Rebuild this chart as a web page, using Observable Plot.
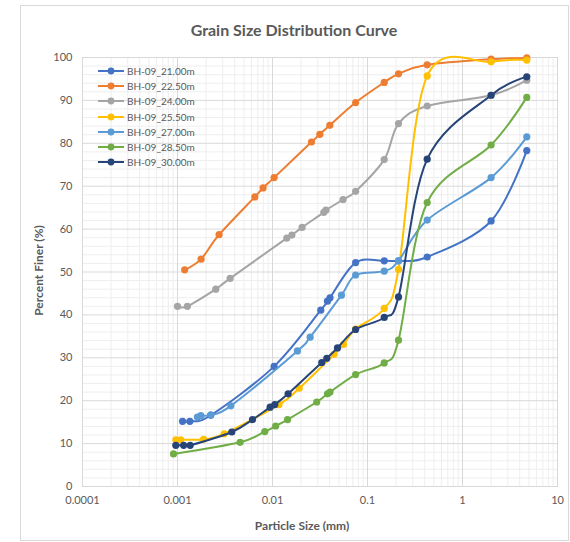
<!DOCTYPE html>
<html>
<head>
<meta charset="utf-8">
<script src="https://cdn.jsdelivr.net/npm/d3@7"></script>
<script src="https://cdn.jsdelivr.net/npm/@observablehq/plot@0.6"></script>
<style>
  html, body { margin: 0; padding: 0; background: #fff; }
  #wrap { position: relative; width: 570px; height: 542px; font-family: Lato, "Open Sans", sans-serif; color: #595959; overflow: hidden; }
  #wrap > * { position: absolute; }
  #chart { left: 0; top: 0; }
  .lg-row { display: flex; align-items: center; height: 15.3px; font-size: 10px; }
</style>
</head>
<body>
<div id="wrap">
  <div id="border" style="left:20px;top:5px;width:547px;height:534px;border:1px solid #d9d9d9;"></div>
  <div id="chart"></div>
  <div id="title" style="left:20px;width:548px;top:20px;text-align:center;font-size:16px;font-weight:700;">Grain Size Distribution Curve</div>
  <div id="xlabel" style="left:202px;width:200px;top:518px;text-align:center;font-size:12px;font-weight:700;">Particle Size (mm)</div>
  <div id="ylabel" style="left:-62px;width:200px;top:263px;text-align:center;font-size:12px;font-weight:700;transform:rotate(-90deg);">Percent Finer (%)</div>
  <div id="legend" style="left:97px;top:63px;"></div>
</div>
<script>
// ---- Data ----
const seriesNames = ["BH-09_21.00m", "BH-09_22.50m", "BH-09_24.00m", "BH-09_25.50m", "BH-09_27.00m", "BH-09_28.50m", "BH-09_30.00m"];
const seriesColors = ["#4472C4", "#ED7D31", "#A5A5A5", "#FFC000", "#5B9BD5", "#70AD47", "#264478"];

const x_21_00 = [0.00113, 0.00135, 0.00224, 0.0104, 0.0322, 0.0379, 0.0403, 0.075, 0.15, 0.212, 0.425, 2.0, 4.75];
const y_21_00 = [15.2, 15.2, 16.6, 28.0, 41.1, 43.2, 44.0, 52.2, 52.6, 52.6, 53.5, 61.9, 78.3];

const x_22_50 = [0.00119, 0.00177, 0.00274, 0.00652, 0.00796, 0.0104, 0.0257, 0.0315, 0.0401, 0.075, 0.15, 0.212, 0.425, 2.0, 4.75];
const y_22_50 = [50.5, 53.0, 58.7, 67.5, 69.6, 72.0, 80.3, 82.1, 84.2, 89.5, 94.2, 96.2, 98.3, 99.6, 99.9];

const x_24_00 = [0.001, 0.00127, 0.00253, 0.00358, 0.01415, 0.016, 0.0205, 0.0347, 0.0365, 0.0553, 0.075, 0.15, 0.212, 0.425, 2.0, 4.75];
const y_24_00 = [42.0, 42.0, 46.0, 48.5, 57.9, 58.6, 60.4, 63.9, 64.4, 66.9, 68.8, 76.2, 84.6, 88.7, 91.2, 94.7];

const x_25_50 = [0.00096, 0.00108, 0.00188, 0.0031, 0.0117, 0.0191, 0.0445, 0.0559, 0.075, 0.15, 0.212, 0.425, 2.0, 4.75];
const y_25_50 = [10.9, 10.9, 11.0, 12.3, 19.1, 22.9, 30.8, 33.1, 36.7, 41.5, 50.6, 95.7, 99.0, 99.4];

const x_27_00 = [0.00162, 0.00176, 0.00224, 0.00364, 0.0183, 0.0249, 0.0532, 0.075, 0.15, 0.212, 0.425, 2.0, 4.75];
const y_27_00 = [16.2, 16.5, 16.7, 18.8, 31.6, 34.8, 44.6, 49.3, 50.2, 52.6, 62.1, 72.0, 81.5];

const x_28_50 = [0.000908, 0.00456, 0.0083, 0.0108, 0.0144, 0.0292, 0.0379, 0.0403, 0.075, 0.15, 0.212, 0.425, 2.0, 4.75];
const y_28_50 = [7.6, 10.3, 12.8, 14.1, 15.6, 19.7, 21.6, 22.0, 26.1, 28.8, 34.1, 66.2, 79.6, 90.7];

const x_30_00 = [0.00096, 0.00116, 0.00136, 0.00373, 0.00616, 0.00944, 0.01057, 0.0146, 0.033, 0.0373, 0.0483, 0.075, 0.15, 0.212, 0.425, 2.0, 4.75];
const y_30_00 = [9.6, 9.6, 9.6, 12.7, 15.6, 18.5, 19.1, 21.6, 28.9, 29.9, 32.3, 36.6, 39.4, 44.2, 76.3, 91.2, 95.5];

const seriesX = [x_21_00, x_22_50, x_24_00, x_25_50, x_27_00, x_28_50, x_30_00];
const seriesY = [y_21_00, y_22_50, y_24_00, y_25_50, y_27_00, y_28_50, y_30_00];

const xTicks = [0.0001, 0.001, 0.01, 0.1, 1, 10];
const xTickLabels = ["0.0001", "0.001", "0.01", "0.1", "1", "10"];
const yTicks = [0, 10, 20, 30, 40, 50, 60, 70, 80, 90, 100];
const yTickLabels = ["0", "10", "20", "30", "40", "50", "60", "70", "80", "90", "100"];

// ---- Build ----
const tables = seriesNames.map((name, i) => seriesX[i].map((x, j) => ({series: name, x, y: seriesY[i][j]})));

const minorX = [];
for (let e = -4; e < 1; e++) for (let m = 2; m <= 9; m++) minorX.push(m * Math.pow(10, e));
const minorY = d3.range(0, 101, 2).filter(v => v % 10 !== 0);

const marks = [
  Plot.ruleX(minorX, {stroke: "#eeeeee", strokeWidth: 1}),
  Plot.ruleY(minorY, {stroke: "#eeeeee", strokeWidth: 1}),
  Plot.ruleX(xTicks, {stroke: "#d9d9d9", strokeWidth: 1}),
  Plot.ruleY(yTicks, {stroke: "#d9d9d9", strokeWidth: 1}),
  Plot.frame({stroke: "#d9d9d9"}),
  Plot.axisX({ticks: xTicks, tickFormat: d => xTickLabels[xTicks.indexOf(d)], tickSize: 0, tickPadding: 10, label: null, fill: "#595959"}),
  Plot.axisY({ticks: yTicks, tickFormat: d => yTickLabels[yTicks.indexOf(d)], tickSize: 0, tickPadding: 10, label: null, fill: "#595959"})
];
tables.forEach((t, i) => {
  marks.push(Plot.line(t, {x: "x", y: "y", stroke: seriesColors[i], strokeWidth: 2, curve: "cardinal"}));
  marks.push(Plot.dot(t, {x: "x", y: "y", fill: seriesColors[i], r: 3.6}));
});

const chart = Plot.plot({
  width: 570,
  height: 542,
  marginLeft: 82,
  marginRight: 13,
  marginTop: 57,
  marginBottom: 56,
  style: {fontFamily: "Lato, 'Open Sans', sans-serif", fontSize: "11px", color: "#595959", background: "transparent"},
  x: {type: "log", domain: [0.0001, 10]},
  y: {domain: [0, 100]},
  marks
});
document.getElementById("chart").appendChild(chart);

// Legend
const lg = document.getElementById("legend");
seriesNames.forEach((name, i) => {
  const row = document.createElement("div");
  row.className = "lg-row";
  row.innerHTML = `<svg width="28" height="10" style="margin-right:2px"><line x1="1" y1="5" x2="27" y2="5" stroke="${seriesColors[i]}" stroke-width="2"/><circle cx="14" cy="5" r="3.4" fill="${seriesColors[i]}"/></svg><span>${name}</span>`;
  lg.appendChild(row);
});
</script>
</body>
</html>
